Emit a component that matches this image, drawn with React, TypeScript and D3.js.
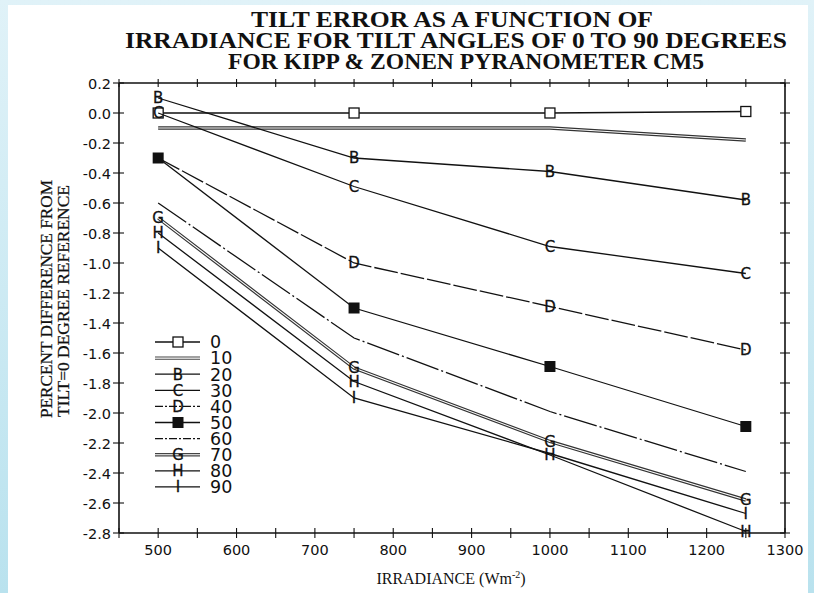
import React from 'react';
import * as d3 from 'd3';

// ---- data ----
const irradiance = [500, 750, 1000, 1250];
const tiltAngles = ['0', '10', '20', '30', '40', '50', '60', '70', '80', '90'];
const tilt0 = [0.0, 0.0, 0.0, 0.01];
const tilt10 = [-0.1, -0.1, -0.1, -0.18];
const tilt20 = [0.1, -0.3, -0.39, -0.58];
const tilt30 = [0.0, -0.49, -0.89, -1.07];
const tilt40 = [-0.3, -1.0, -1.29, -1.58];
const tilt50 = [-0.3, -1.3, -1.69, -2.09];
const tilt60 = [-0.6, -1.5, -1.99, -2.39];
const tilt70 = [-0.7, -1.7, -2.19, -2.58];
const tilt80 = [-0.8, -1.79, -2.28, -2.79];
const tilt90 = [-0.9, -1.9, -2.27, -2.67];
const seriesValues = [tilt0, tilt10, tilt20, tilt30, tilt40, tilt50, tilt60, tilt70, tilt80, tilt90];
const markerTypes = ['openSquare', 'none', 'B', 'C', 'D', 'filledSquare', 'none', 'G', 'H', 'I'];
// markers hidden under other marks in the reference: [series, point]
const hiddenMarkers = [[4, 0], [9, 2]];
const dashes = ['', '', '', '', '24,3', '', '34,3,2,3', '', '', ''];
const doubleLine = [false, true, false, false, false, false, false, true, false, false];

const xTickValues = d3.range(450, 1301, 50);
const xTickLabels = [500, 600, 700, 800, 900, 1000, 1100, 1200, 1300];
const yTickValues = d3.range(0, 16).map((i) => +(0.2 - i * 0.2).toFixed(1));

const titleLines = [
  'TILT ERROR AS A FUNCTION OF',
  'IRRADIANCE FOR TILT ANGLES OF 0 TO 90 DEGREES',
  'FOR KIPP & ZONEN PYRANOMETER CM5',
];
const yTitleLines = ['PERCENT DIFFERENCE FROM', 'TILT=0 DEGREE REFERENCE'];

const W = 814;
const H = 593;
const x = d3.scaleLinear().domain([450, 1300]).range([119, 785]);
const y = d3.scaleLinear().domain([0.2, -2.8]).range([83, 533]);

const SANS = 'DejaVu Sans, Verdana, sans-serif';
const SERIF = 'Liberation Serif, Times New Roman, serif';

function Marker({ type, cx, cy }: { type: string; cx: number; cy: number }) {
  if (type === 'none') return null;
  if (type === 'openSquare')
    return <rect x={cx - 5} y={cy - 5} width={10} height={10} fill="white" stroke="#111" strokeWidth={1.3} />;
  if (type === 'filledSquare')
    return <rect x={cx - 5.5} y={cy - 5.5} width={11} height={11} fill="#111" />;
  return (
    <text x={cx} y={cy + 5.3} textAnchor="middle" fontFamily={SANS} fontSize={15} fill="#111"
      stroke="#111" strokeWidth={0.3}>
      {type}
    </text>
  );
}

export default function App() {
  const line = d3
    .line<number>()
    .x((_, i) => x(irradiance[i]))
    .y((d) => y(d));

  const legendY0 = 342;
  const legendStep = 16.1;
  const isHidden = (s: number, i: number) => hiddenMarkers.some(([a, b]) => a === s && b === i);

  return (
    <svg width={W} height={H} style={{ position: 'absolute', left: 0, top: 0, display: 'block' }}>
      <defs>
        <linearGradient id="bg" x1="0" y1="0" x2="0" y2="1">
          <stop offset="0" stopColor="#e0f2f8" />
          <stop offset="1" stopColor="#b9e2ee" />
        </linearGradient>
      </defs>
      <rect x={0} y={0} width={W} height={H} fill="url(#bg)" />
      <rect x={8} y={5} width={W - 14} height={H - 5} fill="white" />

      {/* title */}
      {titleLines.map((t, i) => (
        <text key={t} x={[452, 456, 466][i]} y={[27, 48, 69][i]} textAnchor="middle"
          fontFamily={SERIF} fontWeight="bold" fontSize={23} fill="#111"
          textLength={[402, 662, 476][i]} lengthAdjust="spacingAndGlyphs">
          {t}
        </text>
      ))}

      {/* frame axes */}
      <g stroke="#111" strokeWidth={1.6} fill="none">
        <line x1={x(450)} x2={x(1300)} y1={y(-2.8)} y2={y(-2.8)} />
        <line x1={x(450)} x2={x(1300)} y1={y(0.2)} y2={y(0.2)} />
        <line x1={x(450)} x2={x(450)} y1={y(0.2)} y2={y(-2.8)} />
        <line x1={x(1300)} x2={x(1300)} y1={y(0.2)} y2={y(-2.8)} />
      </g>
      <g stroke="#111" strokeWidth={1.1}>
        {xTickValues.map((v) => (
          <g key={'xt' + v}>
            <line x1={x(v)} x2={x(v)} y1={y(-2.8) - 5} y2={y(-2.8) + 5} />
            <line x1={x(v)} x2={x(v)} y1={y(0.2) - 4} y2={y(0.2) + 4} />
          </g>
        ))}
        {yTickValues.map((v) => (
          <g key={'yt' + v}>
            <line x1={x(450) - 6} x2={x(450) + 5} y1={y(v)} y2={y(v)} />
            <line x1={x(1300) - 5} x2={x(1300) + 5} y1={y(v)} y2={y(v)} />
          </g>
        ))}
      </g>
      <g fontFamily={SANS} fontSize={14.5} fill="#111">
        {xTickLabels.map((v) => (
          <text key={'xl' + v} x={x(v)} y={555} textAnchor="middle">{v}</text>
        ))}
        {yTickValues.map((v) => (
          <text key={'yl' + v} x={111} y={y(v) + 5.5} textAnchor="end">{v.toFixed(1)}</text>
        ))}
      </g>

      {/* axis titles */}
      <text x={451} y={584} textAnchor="middle" fontFamily={SERIF} fontSize={16} fill="#111">
        IRRADIANCE (Wm<tspan dy={-6} fontSize={10}>-2</tspan><tspan dy={6}>)</tspan>
      </text>
      {yTitleLines.map((t, i) => (
        <text key={t} transform={`translate(${[52, 69][i]},${[299, 301][i]}) rotate(-90)`}
          textAnchor="middle" fontFamily={SERIF} fontSize={16.5} fill="#111"
          stroke="#111" strokeWidth={0.25}
          textLength={[238, 232][i]} lengthAdjust="spacingAndGlyphs">
          {t}
        </text>
      ))}

      {/* series */}
      {seriesValues.map((vals, s) => {
        const d = line(vals) || '';
        return (
          <g key={'s' + s}>
            {doubleLine[s] ? (
              <>
                <path d={d} fill="none" stroke="#333" strokeWidth={3.4} />
                <path d={d} fill="none" stroke="white" strokeWidth={1.1} />
              </>
            ) : (
              <path d={d} fill="none" stroke="#111" strokeWidth={1.3} strokeDasharray={dashes[s] || undefined} />
            )}
            {vals.map((v, i) =>
              isHidden(s, i) ? null : (
                <Marker key={i} type={markerTypes[s]} cx={x(irradiance[i])} cy={y(v)} />
              )
            )}
          </g>
        );
      })}

      {/* legend */}
      {tiltAngles.map((a, s) => {
        const ly = legendY0 + s * legendStep;
        return (
          <g key={'lg' + a}>
            {doubleLine[s] ? (
              <>
                <line x1={155} x2={200} y1={ly} y2={ly} stroke="#444" strokeWidth={3.4} />
                <line x1={155} x2={200} y1={ly} y2={ly} stroke="white" strokeWidth={1.1} />
              </>
            ) : (
              <line x1={155} x2={200} y1={ly} y2={ly} stroke="#111" strokeWidth={1.3}
                strokeDasharray={dashes[s] ? '8,2,2,2' : undefined} />
            )}
            <Marker type={markerTypes[s]} cx={178} cy={ly} />
            <text x={210} y={ly + 6.3} fontFamily={SANS} fontSize={17.5} fill="#111">{a}</text>
          </g>
        );
      })}
    </svg>
  );
}
